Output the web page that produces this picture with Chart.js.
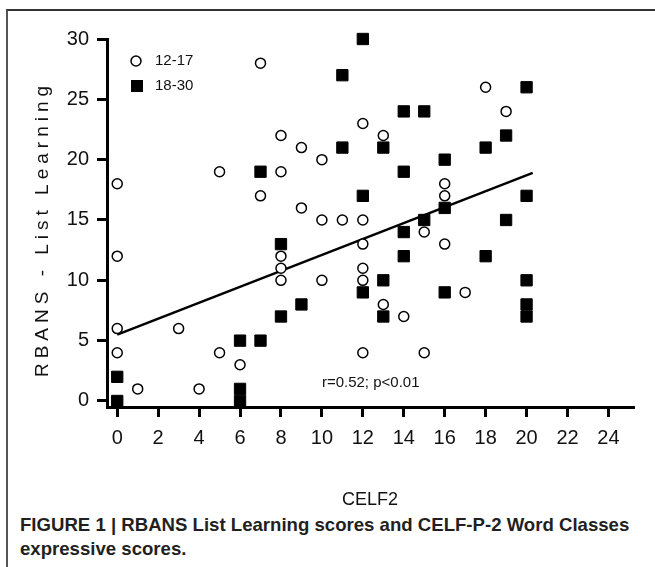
<!DOCTYPE html>
<html>
<head>
<meta charset="utf-8">
<script src="https://cdn.jsdelivr.net/npm/chart.js@4"></script>
<style>
  body { margin: 0; background: #fff; }
  #frame { position: absolute; left: 6px; top: 9px; width: 660px; height: 570px;
           border-left: 2px solid #555; border-top: 2px solid #333; }
  #c { position: absolute; left: 0; top: 0; }
  #caption { position: absolute; left: 20px; top: 513px; white-space: nowrap;
             font: bold 18.6px "Liberation Sans", Arial, sans-serif; line-height: 24px; color: #231f20; }
</style>
</head>
<body>
<div id="frame"></div>
<canvas id="c" width="655" height="511"></canvas>
<div id="caption">FIGURE 1 | RBANS List Learning scores and CELF-P-2 Word Classes<br>expressive scores.</div>
<script>
// group 12-17 (open circles)
const youngX = [0,0,0,0,1,3,4,5,5,6,7,7,8,8,8,8,8,9,9,10,10,10,11,12,12,12,12,12,12,13,13,14,15,15,16,16,16,17,18,19];
const youngY = [18,12,6,4,1,6,1,4,19,3,17,28,22,19,12,11,10,21,16,20,15,10,15,23,15,13,11,10,4,22,8,7,14,4,18,17,13,9,26,24];
// group 18-30 (filled squares)
const adultX = [0,0,6,6,6,7,7,8,8,9,11,11,12,12,12,13,13,13,14,14,14,14,15,15,16,16,16,18,18,19,19,20,20,20,20,20];
const adultY = [2,0,5,1,0,19,5,13,7,8,27,21,30,17,9,21,10,7,24,19,14,12,24,15,20,16,9,21,12,22,15,26,17,10,8,7];
// fitted line ends
const fitX = [0, 20.3];
const fitY = [5.5, 18.9];
const xTicks = [0,2,4,6,8,10,12,14,16,18,20,22,24];
const yTicks = [0,5,10,15,20,25,30];
const groupLabels = ['12-17', '18-30'];
const statText = 'r=0.52; p<0.01';

const toPts = (xs, ys) => xs.map((v, i) => ({x: v, y: ys[i]}));
const font = 'Liberation Sans, Arial, sans-serif';

const extras = {
  id: 'extras',
  afterDraw(chart) {
    const ctx = chart.ctx;
    const {x, y} = chart.scales;
    ctx.save();
    // y axis title with wide letter spacing
    ctx.fillStyle = '#111';
    ctx.font = '19px ' + font;
    ctx.letterSpacing = '5px';
    ctx.translate(43, 229);
    ctx.rotate(-Math.PI / 2);
    ctx.textAlign = 'center';
    ctx.textBaseline = 'middle';
    ctx.fillText('RBANS - List Learning', 0, 0);
    ctx.restore();

    ctx.save();
    // legend
    ctx.lineWidth = 1.5;
    ctx.strokeStyle = '#000';
    ctx.fillStyle = '#fff';
    ctx.beginPath();
    ctx.arc(136, 61, 5, 0, Math.PI * 2);
    ctx.fill();
    ctx.stroke();
    ctx.fillStyle = '#000';
    ctx.fillRect(131, 80, 12, 12);
    ctx.fillStyle = '#111';
    ctx.font = '15px ' + font;
    ctx.textBaseline = 'middle';
    ctx.fillText(groupLabels[0], 155, 61);
    ctx.fillText(groupLabels[1], 155, 86);
    // stats note
    ctx.fillText(statText, x.getPixelForValue(10), y.getPixelForValue(1.5));
    ctx.restore();
  }
};

new Chart(document.getElementById('c'), {
  type: 'scatter',
  data: {
    datasets: [{
      label: groupLabels[0],
      data: toPts(youngX, youngY),
      pointStyle: 'circle',
      pointRadius: 5,
      pointBorderWidth: 1.5,
      borderColor: '#000',
      backgroundColor: '#fff',
      clip: false
    }, {
      label: groupLabels[1],
      data: toPts(adultX, adultY),
      pointStyle: 'rect',
      pointRadius: 8,
      pointBorderWidth: 1,
      borderColor: '#000',
      backgroundColor: '#000',
      clip: false
    }, {
      label: 'fit',
      data: toPts(fitX, fitY),
      showLine: true,
      pointRadius: 0,
      borderColor: '#000',
      borderWidth: 2.5
    }]
  },
  options: {
    responsive: false,
    animation: false,
    layout: { padding: { left: 7, top: 39, right: 22, bottom: 0 } },
    plugins: { legend: { display: false }, tooltip: { enabled: false } },
    scales: {
      x: {
        type: 'linear',
        min: -0.5,
        max: 25.2,
        afterBuildTicks: s => { s.ticks = xTicks.map(v => ({value: v})); },
        afterFit: s => { s.height = 104; },
        border: { width: 3, color: '#000' },
        grid: { drawOnChartArea: false, tickLength: 10, lineWidth: 3, color: '#000' },
        ticks: { color: '#111', padding: 9, maxRotation: 0, autoSkip: false, font: { size: 20, family: font } },
        title: { display: true, text: 'CELF2', color: '#111', padding: 0, font: { size: 18, family: font } }
      },
      y: {
        min: -0.5,
        max: 30,
        afterBuildTicks: s => { s.ticks = yTicks.map(v => ({value: v})); },
        afterFit: s => { s.width = 100; },
        border: { width: 3, color: '#000' },
        grid: { drawOnChartArea: false, tickLength: 10, lineWidth: 3, color: '#000' },
        ticks: { color: '#111', padding: 8, font: { size: 20, family: font } }
      }
    }
  },
  plugins: [extras]
});
</script>
</body>
</html>
